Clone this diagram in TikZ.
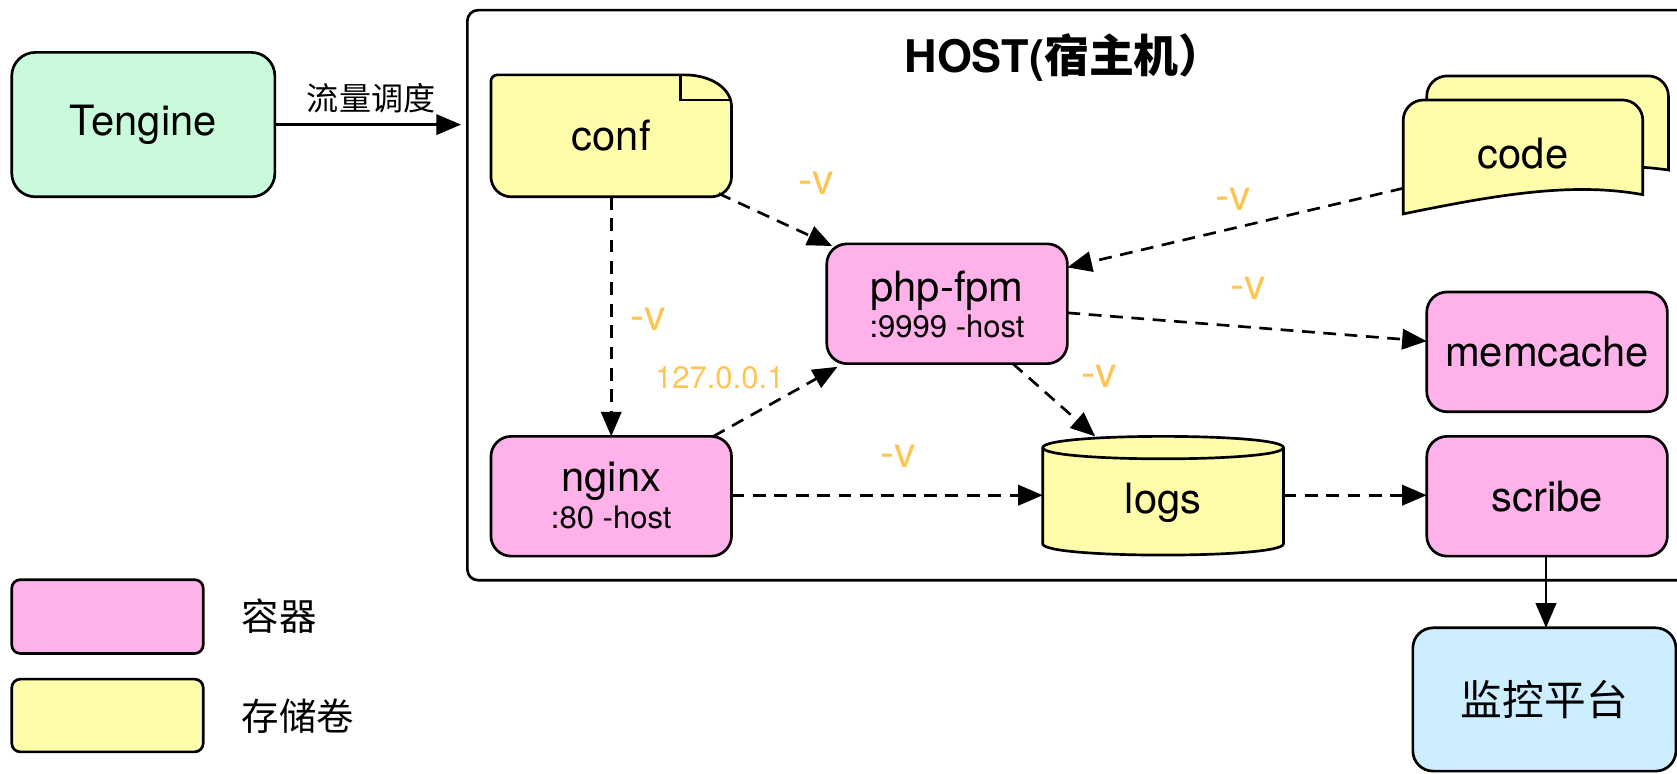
\documentclass[tikz,border=0pt]{standalone}
\usepackage{fontspec}
\setmainfont{TeX Gyre Heros}
\newfontfamily\cjk{Noto Sans CJK SC}
\usetikzlibrary{arrows.meta}
\definecolor{pinkfill}{HTML}{FFB2EA}
\definecolor{yelfill}{HTML}{FFFCAA}
\definecolor{mintfill}{HTML}{C9FADB}
\definecolor{bluefill}{HTML}{CCEEFF}
\definecolor{orangetxt}{HTML}{FFC552}
\newcommand\fmain{\fontsize{39}{44}\selectfont}
\newcommand\fsmall{\fontsize{29}{33}\selectfont}
\begin{document}
\begin{tikzpicture}[x=1pt,y=-1pt,
  lw/.style={line width=2.5pt},
  box/.style={draw, lw, rounded corners=19pt, inner sep=0pt, outer sep=0pt, anchor=north west, font=\fmain},
  cont/.style={box, fill=pinkfill},
  plain/.style={inner sep=0pt, outer sep=0pt, anchor=north west, font=\fmain},
  vlabel/.style={text=orangetxt, font=\fontsize{40}{44}\selectfont, inner sep=0pt},
  dasharrow/.style={lw, dash pattern=on 12pt off 8pt, -{Triangle[length=23pt,width=19pt]}},
  solidarrow/.style={lw, -{Triangle[length=23pt,width=19pt]}},
  legbox/.style={draw, lw, rounded corners=8pt, inner sep=0pt, outer sep=0pt, anchor=north west, minimum width=179pt},
  legtext/.style={font=\cjk\fontsize{35}{40}\selectfont, anchor=west, inner sep=0pt},
]
\useasboundingbox (0,0) rectangle (1568,723);
\clip (0,0) rectangle (1568,723);
\fill[white] (0,0) rectangle (1568,723);

% host container
\node[draw, lw, rounded corners=10pt, inner sep=0pt, outer sep=0pt, anchor=north west,
      minimum width=1163pt, minimum height=533pt] (host) at (437,9.5) {};
\node[font=\fontsize{42}{46}\selectfont\bfseries, inner sep=0pt] (title) at (995,54) {HOST({\cjk 宿主机）}};

% Tengine
\node[box, fill=mintfill, rounded corners=22pt, minimum width=246pt, minimum height=135pt] (tengine) at (11,49) {Tengine};

% conf (note shape)
\draw[lw, fill=yelfill] (459,76) -- (459,165) arc[start angle=180, end angle=270, radius=19pt]
  -- (665,184) arc[start angle=270, end angle=360, radius=19pt]
  -- (684,100) .. controls (684,82) and (664,70) .. (640,70) -- (465,70)
  arc[start angle=90, end angle=180, radius=6pt] -- cycle;
\draw[lw] (636,71) -- (636,93.5) -- (684,93.5);
\node[plain, minimum width=225pt, minimum height=114pt] (conf) at (459,70) {conf};

% code (stacked documents)
\draw[lw, fill=yelfill] (1334,170) [rounded corners=19pt]-- (1334,71) -- (1560,71) [sharp corners]-- (1560,159)
  .. controls (1500,150) and (1420,160) .. (1334,170) -- cycle;
\draw[lw, fill=yelfill] (1312,200) [rounded corners=19pt]-- (1312,93.5) -- (1536,93.5) [sharp corners]-- (1536,182)
  .. controls (1470,170) and (1400,182) .. (1312,200) -- cycle;
\node[plain, minimum width=224pt, minimum height=101pt] (code) at (1312,93.5) {code};

% containers
\node[cont, minimum width=225pt, minimum height=112pt] (php) at (773,228) {};
\node[anchor=base, inner sep=0pt, font=\fmain] (phpname) at ([yshift=-54pt]php.north) {php-fpm};
\node[anchor=base, inner sep=0pt, font=\fsmall] (phpport) at ([yshift=-88pt]php.north) {:9999 -host};

\node[cont, minimum width=225pt, minimum height=112pt] (memcache) at (1334,273) {memcache};

\node[cont, minimum width=225pt, minimum height=112pt] (nginx) at (459,408) {};
\node[anchor=base, inner sep=0pt, font=\fmain] (nginxname) at ([yshift=-52pt]nginx.north) {nginx};
\node[anchor=base, inner sep=0pt, font=\fsmall] (nginxport) at ([yshift=-86pt]nginx.north) {:80 -host};

\node[cont, minimum width=225pt, minimum height=112pt] (scribe) at (1334,408) {scribe};

% logs (cylinder)
\draw[lw, fill=yelfill] (975,418.5) -- (975,508.5) .. controls (975,522.5) and (1200,522.5) .. (1200,508.5)
  -- (1200,418.5) .. controls (1200,404.5) and (975,404.5) .. (975,418.5) -- cycle;
\draw[lw] (975,418.5) .. controls (975,432.5) and (1200,432.5) .. (1200,418.5);
\node[plain, minimum width=225pt, minimum height=111pt] (logs) at (975,408) {};
\node[inner sep=0pt, font=\fmain] (logsname) at ([yshift=-7pt]logs.center) {logs};

% monitor
\node[box, fill=bluefill, minimum width=246pt, minimum height=134pt, font=\cjk\fontsize{39}{44}\selectfont] (monitor) at (1321,587) {监控平台};

% legend
\node[legbox, fill=pinkfill, minimum height=69pt] (legc) at (11,542) {};
\node[legbox, fill=yelfill, minimum height=68pt] (legv) at (11,635) {};
\node[legtext] (legctext) at (226,576.5) {容器};
\node[legtext] (legvtext) at (226,670) {存储卷};

% connectors
\draw[solidarrow, shorten >=6pt] (tengine.east) -- (tengine.east -| host.west)
  node[midway, above=10pt, font=\cjk\fontsize{30}{34}\selectfont, inner sep=0pt] (flowlbl) {流量调度};

\draw[dasharrow] ([xshift=-12pt,yshift=3pt]conf.south east) -- ([xshift=5pt,yshift=-2pt]php.north west);
\node[vlabel] (v1) at (763,171) {-v};

\draw[dasharrow] (conf.south) -- (nginx.north);
\node[vlabel] (v2) at (606,299) {-v};

\draw[dasharrow] ([xshift=-17pt]nginx.north east) -- ([xshift=10pt,yshift=-3pt]php.south west);
\node[text=orangetxt, font=\fsmall, inner sep=0pt] (loop) at (673,353) {127.0.0.1};

\draw[dasharrow] ([yshift=-82.5pt]code.north west) -- ([yshift=-22pt]php.north east);
\node[vlabel] (v3) at (1153,186) {-v};

\draw[dasharrow] ([yshift=-64.5pt]php.north east) -- ([yshift=-46pt]memcache.north west);
\node[vlabel] (v4) at (1167,269.5) {-v};

\draw[dasharrow] ([xshift=-51pt]php.south east) -- ([xshift=49pt]logs.north west);
\node[vlabel] (v5) at (1028,352) {-v};

\draw[dasharrow] ([yshift=-55pt]nginx.north east) -- ([yshift=-55pt]logs.north west);
\node[vlabel] (v6) at (840,427) {-v};

\draw[dasharrow] ([yshift=-55pt]logs.north east) -- ([yshift=-55pt]scribe.north west);

\draw[solidarrow] ([xshift=-1pt]scribe.south) -- ([xshift=-1pt]scribe.south |- monitor.north);
\end{tikzpicture}
\end{document}
